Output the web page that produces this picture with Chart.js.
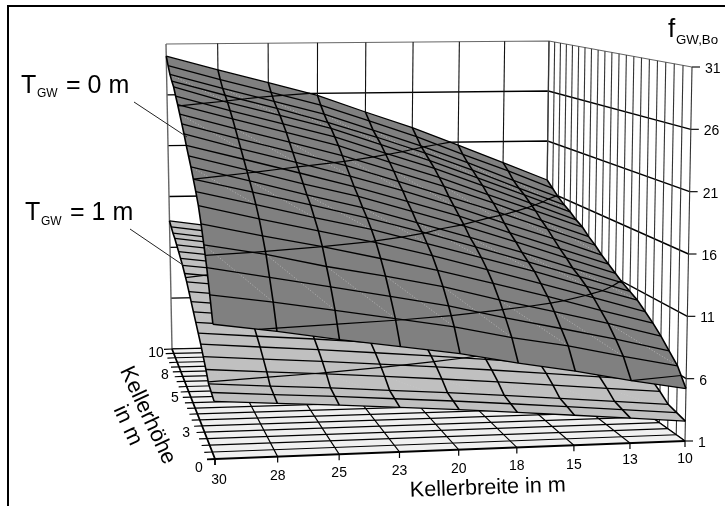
<!DOCTYPE html>
<html>
<head>
<meta charset="utf-8">
<style>
body { margin: 0; background: #fff; }
#box { position: relative; width: 725px; height: 506px; overflow: hidden; }
#frame { position: absolute; left: 7px; top: 5px; right: -5px; bottom: -5px; border-left: 2px solid #000; border-top: 2px solid #000; }
</style>
</head>
<body>
<div id="box"><canvas id="myChart" width="725" height="506"></canvas><div id="frame"></div></div>
<script src="https://cdn.jsdelivr.net/npm/chart.js@4"></script>
<script>
const breite = [30, 27.5, 25, 22.5, 20, 17.5, 15, 12.5, 10];
const hoehe = [0, 0.5, 1, 1.5, 2, 2.5, 3, 3.5, 4, 4.5, 5, 5.5, 6, 6.5, 7, 7.5, 8, 8.5, 9, 9.5, 10];
const zTicks = [1, 6, 11, 16, 21, 26, 31];
const breiteLabels = ['30', '28', '25', '23', '20', '18', '15', '13', '10'];
const hoeheLabels = ['0', '3', '5', '8', '10'];
const hoeheLabelAt = [0, 2.5, 5, 7.5, 10];
const levels = [6, 11, 16, 21, 26];

// f_GW,Bo for T_GW = 0 m, one row per Kellerhöhe, columns as in breite
const tgw0 = [
  [11.5, 10.8, 10.0, 9.3, 8.6, 7.7, 6.9, 6.0, 5.2],
  [13.4, 12.7, 11.9, 11.1, 10.3, 9.3, 8.5, 7.5, 6.6],
  [15.2, 14.3, 13.4, 12.5, 11.6, 10.5, 9.5, 8.5, 7.4],
  [16.7, 15.8, 14.7, 13.8, 12.8, 11.6, 10.5, 9.4, 8.2],
  [18.1, 17.0, 16.0, 14.9, 13.8, 12.6, 11.4, 10.1, 8.9],
  [19.3, 18.1, 17.0, 15.9, 14.7, 13.4, 12.1, 10.8, 9.5],
  [20.2, 19.0, 17.8, 16.7, 15.4, 14.1, 12.8, 11.4, 10.1],
  [21.0, 19.8, 18.6, 17.4, 16.1, 14.7, 13.3, 11.9, 10.5],
  [21.8, 20.5, 19.2, 18.0, 16.6, 15.2, 13.8, 12.3, 10.9],
  [22.5, 21.2, 19.9, 18.7, 17.3, 15.9, 14.4, 12.9, 11.4],
  [23.2, 21.9, 20.6, 19.3, 17.9, 16.5, 14.9, 13.4, 11.9],
  [24.0, 22.6, 21.3, 20.0, 18.6, 17.1, 15.5, 14.0, 12.4],
  [24.7, 23.3, 22.0, 20.7, 19.2, 17.7, 16.2, 14.6, 13.0],
  [25.4, 24.0, 22.7, 21.4, 19.9, 18.4, 16.8, 15.1, 13.5],
  [26.1, 24.7, 23.4, 22.1, 20.5, 19.0, 17.3, 15.7, 14.1],
  [26.7, 25.3, 24.0, 22.7, 21.1, 19.6, 17.9, 16.2, 14.5],
  [27.4, 25.9, 24.6, 23.3, 21.7, 20.1, 18.4, 16.7, 15.0],
  [27.8, 26.4, 25.1, 23.7, 22.2, 20.6, 18.9, 17.1, 15.4],
  [28.3, 26.9, 25.6, 24.3, 22.7, 21.1, 19.4, 17.6, 15.9],
  [29.0, 27.6, 26.3, 25.0, 23.4, 21.8, 20.0, 18.3, 16.5],
  [29.8, 28.4, 27.1, 25.8, 24.1, 22.5, 20.7, 18.9, 17.1]
];
// f_GW,Bo for T_GW = 1 m
const tgw1 = [
  [5.49, 5.16, 4.85, 4.51, 4.16, 3.78, 3.39, 3.00, 2.60],
  [5.70, 5.37, 5.06, 4.71, 4.37, 3.99, 3.60, 3.20, 2.80],
  [5.90, 5.57, 5.26, 4.91, 4.57, 4.19, 3.80, 3.40, 3.00],
  [6.60, 6.26, 5.94, 5.58, 5.22, 4.83, 4.42, 4.01, 3.60],
  [7.20, 6.85, 6.52, 6.15, 5.77, 5.37, 4.95, 4.52, 4.10],
  [7.80, 7.42, 7.06, 6.66, 6.26, 5.82, 5.37, 4.91, 4.45],
  [8.30, 7.90, 7.53, 7.11, 6.69, 6.24, 5.76, 5.28, 4.80],
  [8.80, 8.38, 7.98, 7.53, 7.08, 6.59, 6.08, 5.56, 5.05],
  [9.30, 8.85, 8.42, 7.94, 7.46, 6.94, 6.40, 5.85, 5.30],
  [9.80, 9.32, 8.87, 8.36, 7.85, 7.29, 6.72, 6.13, 5.55],
  [10.30, 9.79, 9.31, 8.77, 8.23, 7.64, 7.04, 6.42, 5.80],
  [10.80, 10.26, 9.74, 9.17, 8.59, 7.97, 7.32, 6.66, 6.00],
  [11.20, 10.63, 10.10, 9.50, 8.90, 8.25, 7.58, 6.88, 6.20],
  [11.60, 11.01, 10.46, 9.83, 9.21, 8.53, 7.83, 7.11, 6.40],
  [11.90, 11.30, 10.73, 10.10, 9.46, 8.77, 8.06, 7.33, 6.60],
  [12.20, 11.58, 11.00, 10.35, 9.69, 8.98, 8.25, 7.50, 6.75],
  [12.50, 11.87, 11.27, 10.60, 9.92, 9.20, 8.44, 7.67, 6.90],
  [12.80, 12.15, 11.54, 10.85, 10.16, 9.41, 8.63, 7.84, 7.05],
  [13.00, 12.34, 11.72, 11.03, 10.33, 9.58, 8.79, 7.99, 7.20],
  [13.30, 12.63, 11.99, 11.28, 10.56, 9.79, 8.99, 8.17, 7.35],
  [13.60, 12.91, 12.26, 11.53, 10.79, 10.00, 9.18, 8.34, 7.50]
];

function quadMap(p) {
  const [x0, y0] = p[0], [x1, y1] = p[1], [x2, y2] = p[2], [x3, y3] = p[3];
  const sx = x0 - x1 + x2 - x3, sy = y0 - y1 + y2 - y3;
  const dx1 = x1 - x2, dx2 = x3 - x2, dy1 = y1 - y2, dy2 = y3 - y2;
  const den = dx1 * dy2 - dx2 * dy1;
  const g = (sx * dy2 - dx2 * sy) / den, h = (dx1 * sy - sx * dy1) / den;
  const a = x1 - x0 + g * x1, b = x3 - x0 + h * x3, d = y1 - y0 + g * y1, e = y3 - y0 + h * y3;
  return (u, v) => {
    const w = g * u + h * v + 1;
    return [(a * u + b * v + x0) / w, (d * u + e * v + y0) / w];
  };
}
// view of the box: corners 30/0, 10/0, 10/10, 30/10 at z=1 and z=31
const floorMap = quadMap([[215, 459], [685, 441], [545, 341], [172, 349]]);
const topMap = quadMap([[209, 74], [692, 67], [549, 41], [166, 44]]);
function project(b, h, z) {
  const u = (30 - b) / 20, v = h / 10, t = (z - 1) / 30;
  const f = floorMap(u, v), o = topMap(u, v);
  return { x: f[0] + (o[0] - f[0]) * t, y: f[1] + (o[1] - f[1]) * t };
}

const datasets = [];
// chart.js paints the first dataset on top, so everything is unshifted
function add(points, color, width, extra) {
  datasets.unshift(Object.assign({ data: points, borderColor: color, borderWidth: width, pointRadius: 0, showLine: true, fill: false, tension: 0, clip: false }, extra || {}));
}

// walls
zTicks.forEach(z => {
  const p = project(10, 0, z);
  add([project(30, 10, z), project(10, 10, z), p], z === 31 ? '#666' : '#000', z === 31 ? 1.2 : 1.4);
  add([p, { x: p.x + 8, y: p.y }], '#111', 1.2);
});
breite.forEach(b => {
  const edge = b === 30 || b === 10;
  add([project(b, 10, 1), project(b, 10, 31)], edge ? '#666' : '#111', edge ? 1.4 : 1.1);
});
hoehe.forEach(h => add([project(10, h, 1), project(10, h, 31)], '#333', 1.1));
// floor
add([project(30, 0, 1), project(10, 0, 1), project(10, 10, 1), project(30, 10, 1), project(30, 0, 1)], 'rgba(0,0,0,0)', 0, { backgroundColor: '#f0f0f0', fill: 'shape' });
hoehe.forEach(h => {
  const a = project(30, h, 1);
  add([{ x: a.x - 8, y: a.y + 0.3 }, a, project(10, h, 1)], '#000', h === 0 ? 1.8 : 1.2);
});
breite.forEach(b => {
  const a = project(b, 0, 1);
  add([project(b, 10, 1), a, { x: a.x, y: a.y + 6 }], '#000', b === 30 ? 1.8 : 1.2);
});

function drawSurface(surf, fillColor) {
  const row = j => breite.map((b, i) => project(b, hoehe[j], surf[j][i]));
  const col = i => hoehe.map((h, j) => project(breite[i], h, surf[j][i]));
  const outline = row(0).concat(col(8).slice(1), row(20).reverse().slice(1), col(0).reverse().slice(1));
  add(outline, 'rgba(0,0,0,0)', 0, { backgroundColor: fillColor, fill: 'shape' });
  // seams of the mesh triangles
  for (let i = 0; i < 8; i++) for (let j = 2; j < 20; j += 5) {
    add([project(breite[i], hoehe[j + 1], surf[j + 1][i]), project(breite[i + 1], hoehe[j - 1], surf[j - 1][i + 1])], '#c8c8c8', 0.7, { borderDash: [1, 2] });
  }
  hoehe.forEach((h, j) => add(row(j), '#000', 1.3));
  breite.forEach((b, i) => add(col(i), '#000', 1.6));
  // level lines, sorted along the width
  levels.forEach(z => {
    const pts = [];
    surf.forEach((r, j) => { for (let i = 0; i < 8; i++) {
      const a = r[i], c = r[i + 1];
      if ((a - z) * (c - z) <= 0 && a !== c) { const t = (z - a) / (c - a); pts.push([breite[i] + (breite[i + 1] - breite[i]) * t, hoehe[j]]); }
    } });
    breite.forEach((b, i) => { for (let j = 0; j < 20; j++) {
      const a = surf[j][i], c = surf[j + 1][i];
      if ((a - z) * (c - z) <= 0 && a !== c) { const t = (z - a) / (c - a); pts.push([b, hoehe[j] + 0.5 * t]); }
    } });
    pts.sort((m, n) => n[0] - m[0]);
    if (pts.length > 1) add(pts.map(m => project(m[0], m[1], z)), '#000', 1.2);
  });
}
drawSurface(tgw1, '#c0c0c0');
drawSurface(tgw0, '#808080');

const textPlugin = {
  id: 'texts',
  afterDraw(chart) {
    const c = chart.ctx;
    c.save();
    c.fillStyle = '#000';
    c.textBaseline = 'alphabetic';
    const put = (s, x, y, size, rot, align) => {
      c.save();
      c.translate(x, y);
      c.rotate((rot || 0) * Math.PI / 180);
      c.font = size + 'px "Liberation Sans", Arial, sans-serif';
      c.textAlign = align || 'left';
      c.fillText(s, 0, 0);
      c.restore();
    };
    c.strokeStyle = '#222';
    c.lineWidth = 1;
    [[134, 102, 187, 137], [130, 229, 183, 265]].forEach(l => { c.beginPath(); c.moveTo(l[0], l[1]); c.lineTo(l[2], l[3]); c.stroke(); });
    put('T', 21, 93, 25); put('GW', 37, 97, 12); put('= 0 m', 66, 93, 25);
    put('T', 25, 220, 25); put('GW', 41, 225, 12); put('= 1 m', 70, 220, 25);
    put('f', 668, 37, 26); put('GW,Bo', 676, 44, 13.3);
    zTicks.forEach(z => { const p = project(10, 0, z); put(String(z), p.x + 13, p.y + 6, 14); });
    const breiteDy = [25, 23, 23, 23, 23, 23, 24, 21, 22], hoeheDy = [13, 11, 5, 7, 8];
    breiteLabels.forEach((s, i) => { const p = project(breite[i], 0, 1); put(s, p.x + (i === 0 ? 4 : 0), p.y + breiteDy[i], 14, 0, 'center'); });
    hoeheLabels.forEach((s, i) => { const p = project(30, hoeheLabelAt[i], 1); put(s, p.x - 16, p.y + hoeheDy[i], 14, 0, 'center'); });
    put('Kellerbreite in m', 488, 494, 21.6, -2, 'center');
    put('Kellerhöhe', 142, 418, 22, 65, 'center');
    put('in m', 122, 428, 22, 65, 'center');
    c.restore();
  }
};

new Chart(document.getElementById('myChart').getContext('2d'), {
  type: 'scatter',
  data: { datasets: datasets },
  options: {
    responsive: false,
    animation: false,
    layout: { padding: 0 },
    plugins: { legend: { display: false }, tooltip: { enabled: false } },
    scales: {
      x: { type: 'linear', min: 0, max: 725, display: false },
      y: { type: 'linear', min: 0, max: 506, reverse: true, display: false }
    }
  },
  plugins: [textPlugin]
});
</script>
</body>
</html>
